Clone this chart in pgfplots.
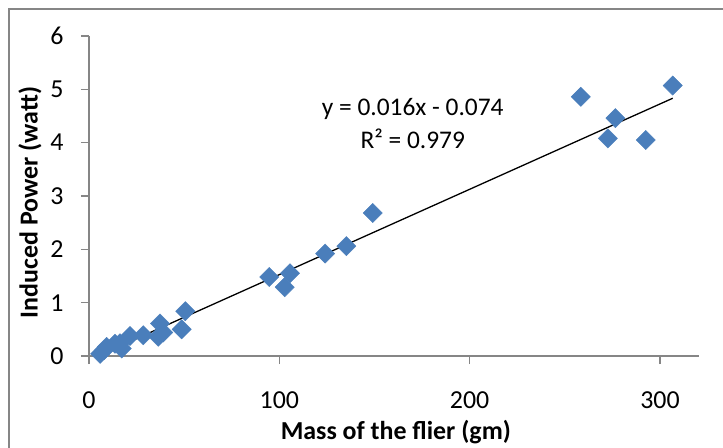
\documentclass[border=0pt]{standalone}
\usepackage{pgfplots}
\pgfplotsset{compat=1.18}
\usepackage{fontspec}
\setmainfont{Carlito}
\definecolor{mk}{RGB}{74,126,187}
\definecolor{ax}{RGB}{134,134,134}
\begin{document}
\begin{tikzpicture}
\useasboundingbox (0bp,0bp) rectangle (723bp,448bp);
\draw[ax, line width=1.5bp] (9bp,-5bp) -- (9bp,439bp) -- (730bp,439bp);
\begin{axis}[
  at={(89bp,92bp)}, anchor=south west,
  scale only axis, width=610bp, height=320bp,
  xmin=0, xmax=320.5, ymin=0, ymax=6,
  xtick={0,100,200,300}, ytick={0,1,2,3,4,5,6},
  axis x line*=bottom, axis y line*=left,
  axis line style={ax, line width=1.5bp, -},
  major tick style={ax, line width=1.5bp},
  major tick length=8bp, tick align=outside,
  tick label style={font=\fontsize{26}{30}\selectfont},
  yticklabel style={xshift=-14bp},
  xticklabel style={yshift=-24bp},
  /pgf/number format/assume math mode=true,
  xlabel={Mass of the flier (gm)},
  ylabel={Induced Power (watt)},
  label style={font=\bfseries\fontsize{26}{30}\selectfont},
  xlabel style={at={(axis description cs:0.503,-0.2375)}, anchor=center},
  ylabel style={at={(axis description cs:-0.0967,0.48)}, anchor=center},
  clip=false,
]
\addplot[only marks, mark=square*, mark size=6.8bp, mark options={rotate=45, fill=mk, draw=mk}] coordinates {
(306.7,5.07) (258.4,4.86) (276.6,4.46) (272.6,4.08) (292.5,4.05)
(149.1,2.68) (135.2,2.06) (124.1,1.92) (94.7,1.48) (105.6,1.55)
(102.8,1.29) (50.6,0.84) (48.7,0.50) (37.3,0.61) (39.0,0.44)
(36.4,0.36) (28.5,0.39) (21.5,0.375) (16.3,0.24) (17.2,0.14)
(13.7,0.23) (9.3,0.17) (5.8,0.04) (7.9,0.11)
};
\addplot[black, line width=1.3bp] coordinates {(5.8,0.0188) (306.7,4.833)};
\node[font=\fontsize{25.5}{30}\selectfont] at (axis cs:170.1,4.626) {y = 0.016x - 0.074};
\node[font=\fontsize{25.5}{30}\selectfont] at (axis cs:170.1,4.08) {R² = 0.979};
\end{axis}
\end{tikzpicture}
\end{document}
